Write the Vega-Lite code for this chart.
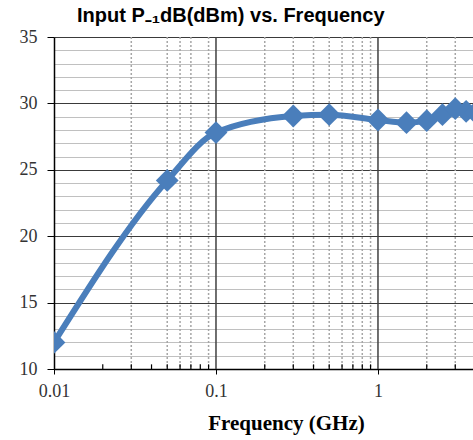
{
  "$schema": "https://vega.github.io/schema/vega-lite/v6.json",
  "autosize": {"type": "none"},
  "padding": {"left": 54, "top": 37, "right": 0, "bottom": 71},
  "width": 419,
  "height": 332,
  "background": "white",
  "title": {
    "text": "Input P₋₁dB(dBm) vs. Frequency",
    "font": "Liberation Sans",
    "fontSize": 20,
    "fontWeight": "bold",
    "color": "#000000",
    "anchor": "start",
    "dx": 58,
    "offset": 2
  },
  "datasets": {
    "main": [
      {"f": 0.01, "p": 12.0},
      {"f": 0.05, "p": 24.2},
      {"f": 0.1, "p": 27.8},
      {"f": 0.3, "p": 29.05},
      {"f": 0.5, "p": 29.15},
      {"f": 1, "p": 28.75},
      {"f": 1.5, "p": 28.55},
      {"f": 2, "p": 28.7},
      {"f": 2.5, "p": 29.15},
      {"f": 3, "p": 29.6},
      {"f": 3.5, "p": 29.4},
      {"f": 4, "p": 29.3}
    ],
    "dotted": [
      {"f": 0.03}, {"f": 0.05}, {"f": 0.06}, {"f": 0.07}, {"f": 0.09},
      {"f": 0.2}, {"f": 0.3}, {"f": 0.4}, {"f": 0.5}, {"f": 0.6}, {"f": 0.7}, {"f": 0.8}, {"f": 0.9},
      {"f": 2}, {"f": 3}
    ],
    "minorticks": [
      {"f": 0.02}, {"f": 0.03}, {"f": 0.04}, {"f": 0.05}, {"f": 0.06}, {"f": 0.07}, {"f": 0.08}, {"f": 0.09},
      {"f": 0.2}, {"f": 0.3}, {"f": 0.4}, {"f": 0.5}, {"f": 0.6}, {"f": 0.7}, {"f": 0.8}, {"f": 0.9},
      {"f": 2}, {"f": 3}
    ],
    "major": [{"f": 0.1}, {"f": 1}]
  },
  "config": {
    "view": {"stroke": null},
    "axis": {"labelFont": "Liberation Serif", "labelFontSize": 18, "labelColor": "#333333", "domainColor": "#000000", "tickColor": "#000000", "labelOverlap": false}
  },
  "encoding": {
    "x": {"field": "f", "type": "quantitative", "scale": {"type": "log", "domain": [0.01, 3.86], "nice": false},
      "title": "Frequency (GHz)",
      "axis": {
        "values": [0.01, 0.1, 1],
        "labelExpr": "datum.value == 0.01 ? '0.01' : datum.value == 0.1 ? '0.1' : '1'",
        "grid": false,
        "tickSize": 5,
        "labelPadding": 8,
        "labelOverlap": false,
        "labelFlush": false,
        "domainWidth": 1.5,
        "titleFont": "Liberation Serif",
        "titleFontSize": 21,
        "titleFontWeight": "bold",
        "titleColor": "#000000",
        "titlePadding": 12,
        "titleX": 232
      }
    }
  },
  "layer": [
    {
      "data": {"name": "dotted"},
      "mark": {"type": "rule", "color": "#a6a6a6", "strokeWidth": 1.5, "strokeDash": [2, 2]}
    },
    {
      "data": {"name": "main"},
      "mark": {"type": "line", "color": "#4a7ebb", "strokeWidth": 6, "interpolate": "monotone", "clip": true},
      "encoding": {
        "y": {"field": "p", "type": "quantitative", "scale": {"domain": [10, 35], "nice": false},
          "title": null,
          "axis": {
            "values": [10,11,12,13,14,15,16,17,18,19,20,21,22,23,24,25,26,27,28,29,30,31,32,33,34,35],
            "labelExpr": "datum.value % 5 === 0 ? datum.label : ''",
            "labelOverlap": false,
            "labelFlush": false,
            "grid": true,
            "gridColor": {"condition": {"test": "datum.value % 5 === 0", "value": "#3a3a3a"}, "value": "#c0c0c0"},
            "gridWidth": 1.2,
            "tickColor": {"condition": {"test": "datum.value % 5 === 0", "value": "#000000"}, "value": "transparent"},
            "tickSize": 7,
            "labelPadding": 10,
            "domainWidth": 1.5
          }
        }
      }
    },
    {
      "data": {"name": "major"},
      "mark": {"type": "rule", "color": "#404040", "strokeWidth": 1.5}
    },
    {
      "data": {"name": "minorticks"},
      "mark": {"type": "rule", "color": "#000000", "strokeWidth": 1.2},
      "encoding": {
        "y": {"datum": 10, "type": "quantitative", "scale": {"domain": [10, 35], "nice": false},
          "title": null,
          "axis": {
            "values": [10,11,12,13,14,15,16,17,18,19,20,21,22,23,24,25,26,27,28,29,30,31,32,33,34,35],
            "labelExpr": "datum.value % 5 === 0 ? datum.label : ''",
            "labelOverlap": false,
            "labelFlush": false,
            "grid": true,
            "gridColor": {"condition": {"test": "datum.value % 5 === 0", "value": "#3a3a3a"}, "value": "#c0c0c0"},
            "gridWidth": 1.2,
            "tickColor": {"condition": {"test": "datum.value % 5 === 0", "value": "#000000"}, "value": "transparent"},
            "tickSize": 7,
            "labelPadding": 10,
            "domainWidth": 1.5
          }
        },
        "y2": {"datum": 10.35}
      }
    },
    {
      "data": {"name": "main"},
      "mark": {"type": "point", "shape": "diamond", "filled": true, "color": "#4a7ebb", "size": 520, "opacity": 1, "clip": true},
      "encoding": {
        "y": {"field": "p", "type": "quantitative", "scale": {"domain": [10, 35], "nice": false},
          "title": null,
          "axis": {
            "values": [10,11,12,13,14,15,16,17,18,19,20,21,22,23,24,25,26,27,28,29,30,31,32,33,34,35],
            "labelExpr": "datum.value % 5 === 0 ? datum.label : ''",
            "labelOverlap": false,
            "labelFlush": false,
            "grid": true,
            "gridColor": {"condition": {"test": "datum.value % 5 === 0", "value": "#3a3a3a"}, "value": "#c0c0c0"},
            "gridWidth": 1.2,
            "tickColor": {"condition": {"test": "datum.value % 5 === 0", "value": "#000000"}, "value": "transparent"},
            "tickSize": 7,
            "labelPadding": 10,
            "domainWidth": 1.5
          }
        }
      }
    }
  ]
}
